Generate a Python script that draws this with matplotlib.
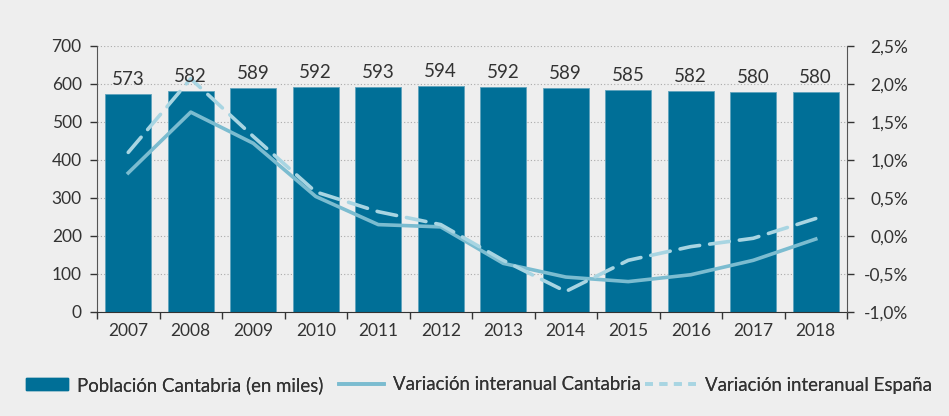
import matplotlib.pyplot as plt
from matplotlib.ticker import FuncFormatter, FixedLocator
from matplotlib.patches import Patch
from matplotlib.lines import Line2D

plt.rcParams['font.family'] = ['Lato', 'DejaVu Sans']

# ----------------------------
# Data
# ----------------------------
years = ["2007", "2008", "2009", "2010", "2011", "2012",
         "2013", "2014", "2015", "2016", "2017", "2018"]
poblacion = [573, 582, 589, 592, 593, 594, 592, 589, 585, 582, 580, 580]
var_cantabria = [0.83, 1.63, 1.22, 0.52, 0.15, 0.12, -0.36, -0.54, -0.60, -0.51, -0.32, -0.04]
var_espana = [1.10, 2.07, 1.31, 0.58, 0.32, 0.15, -0.32, -0.73, -0.32, -0.14, -0.03, 0.23]

bg = "#eeeeee"
bar_color = "#006f97"
line_color = "#7bbcd0"
dash_color = "#a8d5e2"
text_color = "#333333"

# ----------------------------
# Plot
# ----------------------------
fig = plt.figure(figsize=(9.49, 4.16), dpi=100, facecolor=bg)
ax = fig.add_axes([97 / 949, 104 / 416, 750 / 949, 266 / 416], facecolor=bg)
x = list(range(len(years)))

ax.bar(x, poblacion, width=0.73, color=bar_color, edgecolor="#5fa3bd",
       linewidth=0.6, zorder=2)

ax.set_xlim(-0.5, len(years) - 0.5)
ax.set_ylim(0, 700)
ax.set_yticks(range(0, 701, 100))
ax.yaxis.grid(True, linestyle=(0, (1, 2)), color="#aaaaaa", linewidth=0.8, zorder=0)
ax.set_axisbelow(True)

ax.set_xticks(x)
ax.set_xticklabels(years)
ax.xaxis.set_minor_locator(FixedLocator([i - 0.5 for i in range(len(years) + 1)]))
ax.tick_params(axis="x", which="major", length=0, pad=8, labelsize=12.5, colors=text_color)
ax.tick_params(axis="x", which="minor", length=5, width=1, color="#333333", direction="out")
ax.tick_params(axis="y", length=5, width=1, color="#333333", labelsize=12.5,
               colors=text_color, pad=6)

ax.spines["top"].set_visible(False)
ax.spines["right"].set_visible(False)
ax.spines["left"].set_color("#555555")
ax.spines["bottom"].set_color("#333333")

# secondary axis for percentages
ax2 = ax.twinx()
ax2.set_ylim(-1.0, 2.5)
ax2.set_yticks([-1.0, -0.5, 0.0, 0.5, 1.0, 1.5, 2.0, 2.5])
ax2.yaxis.set_major_formatter(FuncFormatter(lambda v, p: f"{v:.1f}%".replace(".", ",")))
ax2.tick_params(axis="y", length=5, width=1, color="#333333", labelsize=12.5,
                colors=text_color, pad=39)
for lbl in ax2.get_yticklabels():
    lbl.set_horizontalalignment("right")
for s in ["top", "left", "bottom"]:
    ax2.spines[s].set_visible(False)
ax2.spines["right"].set_color("#555555")

ax2.plot(x, var_cantabria, color=line_color, linewidth=2.6, solid_joinstyle="round", zorder=3)
ax2.plot(x, var_espana, color=dash_color, linewidth=2.6, dashes=(5.5, 2.8),
         dash_capstyle="round", zorder=4)

# value labels on top of everything
for xi, v in zip(x, poblacion):
    ax2.text(xi, v + 16, str(v), ha="center", va="bottom", fontsize=13.5,
             color=text_color, transform=ax.transData, zorder=6)

# legend: three separate entries placed along the bottom
entries = [
    (Patch(facecolor=bar_color, edgecolor=bar_color), "Población Cantabria (en miles)", 26, 2.25),
    (Line2D([0], [0], color=line_color, linewidth=2.6), "Variación interanual Cantabria", 339, 2.4),
    (Line2D([0], [0], color=dash_color, linewidth=2.6, dashes=(2.2, 1.8)),
     "Variación interanual España", 645, 2.75),
]
for handle, label, xpix, hl in entries:
    leg = fig.legend([handle], [label], loc="center left",
                     bbox_to_anchor=(xpix / 949, 1 - 385 / 416),
                     frameon=False, fontsize=13.4, handlelength=hl, handleheight=0.6,
                     handletextpad=0.48, borderpad=0, borderaxespad=0,
                     labelcolor=text_color)
    fig.add_artist(leg)

fig.savefig("out.png", dpi=100, facecolor=bg)
